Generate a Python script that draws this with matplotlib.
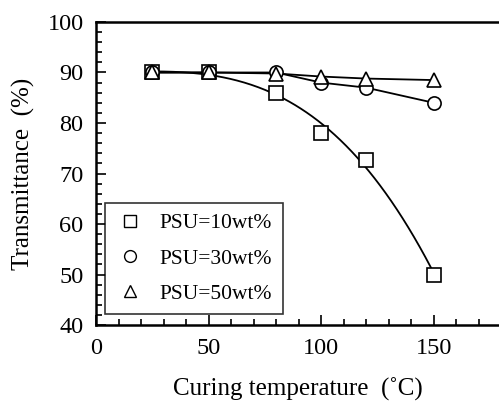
import numpy as np
import matplotlib
matplotlib.use("Agg")
import matplotlib.pyplot as plt
from matplotlib.lines import Line2D

plt.rcParams['font.family'] = ['Liberation Serif', 'DejaVu Serif']

temps = [25, 50, 80, 100, 120, 150]
psu10 = [90.0, 90.0, 86.0, 78.0, 72.7, 50.0]
psu30 = [90.0, 90.0, 90.0, 88.0, 87.0, 84.0]
psu50 = [90.0, 90.0, 89.8, 89.2, 88.8, 88.5]
labels = ['PSU=10wt%', 'PSU=30wt%', 'PSU=50wt%']

fig = plt.figure(figsize=(4.99, 4.05), dpi=100)
ax = fig.add_axes([0.1924, 0.1975, 0.8076, 0.7482])

# smooth fit for the 10 wt% series
coef = np.polyfit(temps, psu10, 3)
xs = np.linspace(temps[0], temps[-1], 200)
ax.plot(xs, np.polyval(coef, xs), color='black', lw=1.3, zorder=2)
ax.plot(temps, psu30, color='black', lw=1.3, zorder=2)
ax.plot(temps, psu50, color='black', lw=1.3, zorder=2)

ms = 9.5
ax.plot(temps, psu10, ls='none', marker='s', ms=ms, mfc='white', mec='black', mew=1.2, zorder=3)
ax.plot(temps, psu30, ls='none', marker='o', ms=ms, mfc='white', mec='black', mew=1.2, zorder=3)
ax.plot(temps, psu50, ls='none', marker='^', ms=ms + 1, mfc='white', mec='black', mew=1.2, zorder=4)

handles = [Line2D([], [], ls='none', marker=m, ms=8.5, mfc='white', mec='black', mew=1.0)
           for m in ['s', 'o', '^']]
leg = ax.legend(handles, labels, loc='lower left', bbox_to_anchor=(0.022, 0.035),
                fontsize=15.5, frameon=True, fancybox=False, edgecolor='black',
                borderpad=0.5, labelspacing=0.7, handletextpad=0.75, handlelength=1.3,
                borderaxespad=0)
leg.get_frame().set_linewidth(1.2)

ax.set_xlim(0, 179)
ax.set_ylim(40, 100)
ax.set_xticks([0, 50, 100, 150])
ax.set_xticks(np.arange(0, 180, 10), minor=True)
ax.set_yticks(np.arange(40, 101, 10))
ax.set_yticks(np.arange(40, 101, 2), minor=True)
ax.tick_params(which='both', direction='in', top=False, right=False, labelsize=17.5, width=1.2)
ax.tick_params(which='major', length=7, pad=9)
ax.tick_params(which='minor', length=4)
for s in ax.spines.values():
    s.set_linewidth(1.8)
ax.spines['right'].set_visible(False)

ax.set_xlabel('Curing temperature  (˚C)', fontsize=18, labelpad=14)
ax.set_ylabel('Transmittance  (%)', fontsize=18, labelpad=9)

fig.savefig('out.png', dpi=100)
